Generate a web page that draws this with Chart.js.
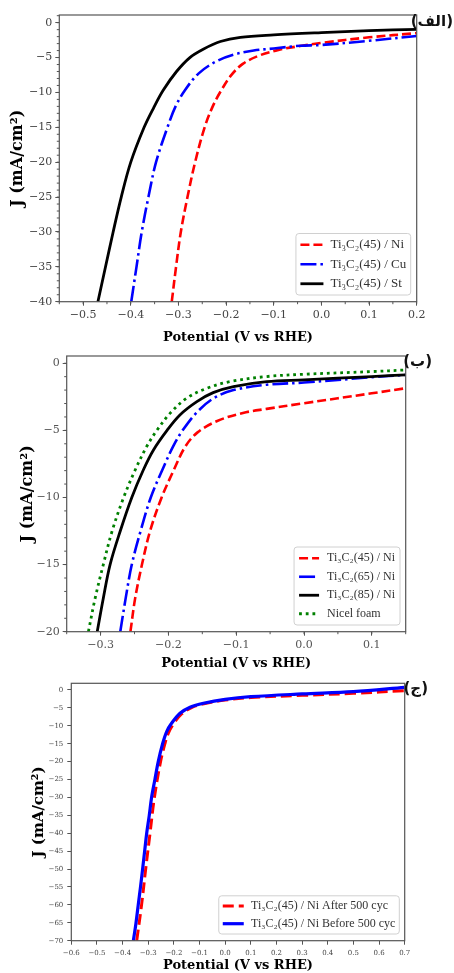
<!DOCTYPE html>
<html lang="fa">
<head>
<meta charset="UTF-8">
<title>Ti3C2 LSV curves</title>
<script src="https://cdn.jsdelivr.net/npm/chart.js"></script>
<style>
  body { margin: 0; background: #fff; width: 454px; height: 973px; position: relative; overflow: hidden; }
  canvas { position: absolute; left: 0; }
  .tag { position: absolute; font: bold 15px "DejaVu Sans", sans-serif; color: #111; white-space: nowrap; }
</style>
</head>
<body>
<canvas id="c1" width="454" height="345" style="top:0"></canvas>
<canvas id="c2" width="454" height="331" style="top:340px"></canvas>
<canvas id="c3" width="454" height="303" style="top:670px"></canvas>
<div class="tag" dir="rtl" style="right:1px; top:12px">(الف)</div>
<div class="tag" dir="rtl" style="right:22px; top:352px">(ب)</div>
<div class="tag" dir="rtl" style="right:26px; top:679px">(ج)</div>

<script>
// ---- panel 1 (الف) ----
const p1Labels = ['Ti₃C₂(45) / Ni', 'Ti₃C₂(45) / Cu', 'Ti₃C₂(45) / St'];
const p1NiV = [-0.314, -0.305, -0.295, -0.281, -0.265, -0.245, -0.228, -0.211, -0.190, -0.165, -0.130, -0.090, -0.045, 0.0, 0.1, 0.2];
const p1NiJ = [-40, -35, -30, -25, -20, -15, -12, -9.8, -7.6, -5.9, -4.7, -3.9, -3.35, -2.9, -2.1, -1.5];
const p1CuV = [-0.399, -0.388, -0.377, -0.363, -0.347, -0.323, -0.306, -0.286, -0.258, -0.222, -0.185, -0.142, -0.100, -0.044, 0.0, 0.1, 0.2];
const p1CuJ = [-40, -35, -30, -25, -20, -15, -12.0, -9.65, -7.3, -5.6, -4.6, -4.0, -3.7, -3.3, -3.2, -2.6, -1.9];
const p1StV = [-0.469, -0.453, -0.437, -0.420, -0.400, -0.372, -0.352, -0.332, -0.304, -0.276, -0.248, -0.212, -0.170, -0.100, 0.0, 0.1, 0.2];
const p1StJ = [-40, -35, -30, -25, -20, -15, -12.2, -9.7, -7.0, -5.0, -3.8, -2.7, -2.1, -1.76, -1.43, -1.15, -0.95];
const p1XTicks = [-0.5, -0.4, -0.3, -0.2, -0.1, 0, 0.1, 0.2];
const p1YTicks = [0, -5, -10, -15, -20, -25, -30, -35, -40];

// ---- panel 2 (ب) ----
const p2Labels = ['Ti₃C₂(45) / Ni', 'Ti₃C₂(65) / Ni', 'Ti₃C₂(85) / Ni', 'Nicel foam'];
const p2N45V = [-0.256, -0.249, -0.239, -0.227, -0.210, -0.192, -0.175, -0.157, -0.128, -0.090, -0.055, 0.0, 0.1, 0.15];
const p2N45J = [-20, -17.5, -15, -12.5, -10, -7.95, -6.2, -5.15, -4.3, -3.7, -3.4, -2.98, -2.24, -1.86];
const p2N65V = [-0.271, -0.263, -0.254, -0.241, -0.226, -0.209, -0.193, -0.179, -0.157, -0.133, -0.104, -0.055, 0.0, 0.1, 0.15];
const p2N65J = [-20, -17.5, -15, -12.5, -10, -7.95, -6.2, -5.0, -3.6, -2.6, -2.0, -1.6, -1.44, -1.04, -0.87];
const p2N85V = [-0.305, -0.296, -0.286, -0.271, -0.254, -0.237, -0.222, -0.202, -0.183, -0.158, -0.134, -0.104, -0.055, 0.0, 0.1, 0.15];
const p2N85J = [-20, -17.5, -15, -12.5, -10, -7.95, -6.46, -5.0, -3.85, -2.86, -2.19, -1.74, -1.37, -1.24, -0.99, -0.87];
const p2FoamV = [-0.318, -0.308, -0.296, -0.283, -0.266, -0.249, -0.232, -0.217, -0.197, -0.173, -0.143, -0.109, -0.055, 0.0, 0.1, 0.15];
const p2FoamJ = [-20, -17.5, -15, -12.5, -10, -7.95, -6.2, -5.0, -3.7, -2.6, -1.86, -1.37, -0.99, -0.82, -0.62, -0.5];
const p2XTicks = [-0.3, -0.2, -0.1, 0, 0.1];
const p2YTicks = [0, -5, -10, -15, -20];

// ---- panel 3 (ج) ----
const p3Labels = ['Ti₃C₂(45) / Ni After 500 cyc', 'Ti₃C₂(45) / Ni Before 500 cyc'];
const p3AfterV = [-0.345, -0.326, -0.310, -0.293, -0.276, -0.252, -0.235, -0.222, -0.202, -0.170, -0.131, -0.079, 0.0, 0.1, 0.3, 0.5, 0.7];
const p3AfterJ = [-70, -60, -50, -40, -30, -20, -15, -12.1, -9.5, -6.7, -4.9, -3.8, -2.8, -2.1, -1.5, -0.93, -0.19];
const p3BeforeV = [-0.358, -0.348, -0.339, -0.330, -0.322, -0.314, -0.306, -0.296, -0.287, -0.274, -0.261, -0.244, -0.228, -0.209, -0.176, -0.137, -0.085, 0.0, 0.1, 0.3, 0.5, 0.7];
const p3BeforeJ = [-70, -65.2, -60, -54.9, -50, -45, -40, -35, -30, -25, -20, -15, -11.6, -9.3, -6.5, -4.8, -3.7, -2.6, -1.86, -1.1, -0.47, 0.74];
const p3XTicks = [-0.6, -0.5, -0.4, -0.3, -0.2, -0.1, 0, 0.1, 0.2, 0.3, 0.4, 0.5, 0.6, 0.7];
const p3YTicks = [0, -5, -10, -15, -20, -25, -30, -35, -40, -45, -50, -55, -60, -65, -70];

const pts = (xs, ys) => xs.map((x, i) => ({x: x, y: ys[i]}));
const fmt = d => v => (v < 0 ? '−' : '') + Math.abs(v).toFixed(d);

// box around the plot and small minor ticks
const frame = {
  id: 'frame',
  afterDatasetsDraw(chart, args, o) {
    const {ctx, chartArea: a} = chart;
    ctx.save();
    ctx.strokeStyle = '#555';
    ctx.lineWidth = 1.2;
    ctx.strokeRect(a.left, a.top, a.right - a.left, a.bottom - a.top);
    ctx.lineWidth = 1;
    ['x', 'y'].forEach(k => {
      const step = o[k];
      if (!step) return;
      const s = chart.scales[k];
      for (let i = Math.ceil(s.min / step - 1e-6); i * step <= s.max + 1e-9; i++) {
        const p = s.getPixelForValue(i * step);
        ctx.beginPath();
        if (k === 'x') { ctx.moveTo(p, a.bottom); ctx.lineTo(p, a.bottom + 2.5); }
        else { ctx.moveTo(a.left, p); ctx.lineTo(a.left - 2.5, p); }
        ctx.stroke();
      }
    });
    ctx.restore();
  }
};

// legend box in the lower right corner of the plot
const boxLegend = {
  id: 'boxLegend',
  afterDraw(chart, args, o) {
    const {ctx, chartArea: a} = chart;
    const sets = chart.data.datasets;
    ctx.save();
    ctx.font = o.font;
    const tw = Math.max(...sets.map(d => ctx.measureText(d.label).width));
    const w = o.pad + o.line + o.gap + tw + o.pad;
    const h = sets.length * o.row + o.extra;
    const x = a.right - o.right - w, y = a.bottom - o.bottom - h;
    ctx.fillStyle = 'rgba(255,255,255,0.9)';
    ctx.strokeStyle = '#d0d0d0';
    ctx.lineWidth = 1;
    ctx.beginPath();
    ctx.roundRect(x, y, w, h, 3);
    ctx.fill();
    ctx.stroke();
    sets.forEach((d, i) => {
      const cy = y + o.extra / 2 + o.row * (i + 0.5);
      ctx.strokeStyle = d.borderColor;
      ctx.lineWidth = d.borderWidth;
      ctx.setLineDash(d.borderDash || []);
      ctx.beginPath();
      ctx.moveTo(x + o.pad, cy);
      ctx.lineTo(x + o.pad + o.line, cy);
      ctx.stroke();
      ctx.setLineDash([]);
      ctx.fillStyle = '#333';
      ctx.textBaseline = 'middle';
      ctx.fillText(d.label, x + o.pad + o.line + o.gap, cy);
    });
    ctx.restore();
  }
};

Chart.defaults.font.family = '"DejaVu Serif", serif';
Chart.defaults.animation = false;

function line(label, data, color, width, dash) {
  return {
    label: label, data: data, borderColor: color, backgroundColor: color,
    borderWidth: width, borderDash: dash, pointRadius: 0, showLine: true,
    tension: 0.35, fill: false
  };
}

function makeChart(id, cfg) {
  const sets = cfg.datasets.map((d, i) => Object.assign(d, {order: cfg.datasets.length - i}));
  return new Chart(document.getElementById(id), {
    type: 'scatter',
    data: {datasets: sets},
    plugins: [frame, boxLegend],
    options: {
      responsive: false,
      devicePixelRatio: 1,
      layout: {padding: {top: cfg.top, right: cfg.right, left: 0, bottom: 0}},
      plugins: {
        legend: {display: false},
        tooltip: {enabled: false},
        frame: {x: cfg.minorX, y: cfg.minorY},
        boxLegend: cfg.legend
      },
      scales: {
        x: {
          type: 'linear', min: cfg.xMin, max: cfg.xMax,
          afterBuildTicks: s => { s.ticks = cfg.xTicks.map(v => ({value: v})); },
          afterFit: s => { s.height = cfg.xH; },
          border: {display: false},
          grid: {drawOnChartArea: false, tickLength: 4, tickColor: '#555'},
          ticks: {callback: fmt(1), maxRotation: 0, autoSkip: false, padding: cfg.tickPad,
                  color: cfg.tickColor, font: {size: cfg.tickSize}},
          title: {display: true, text: 'Potential (V vs RHE)', color: '#000',
                  padding: {top: 0, bottom: 0}, font: {size: 13, weight: 'bold'}}
        },
        y: {
          type: 'linear', min: cfg.yMin, max: cfg.yMax,
          afterBuildTicks: s => { s.ticks = cfg.yTicks.map(v => ({value: v})); },
          afterFit: s => { s.width = cfg.yW; },
          border: {display: false},
          grid: {drawOnChartArea: false, tickLength: 4, tickColor: '#555'},
          ticks: {callback: fmt(0), autoSkip: false, padding: cfg.tickPad,
                  color: cfg.tickColor, font: {size: cfg.tickSize}},
          title: {display: true, text: 'J (mA/cm²)', color: '#000',
                  padding: {top: cfg.yTitlePad, bottom: 0}, font: {size: cfg.yTitleSize, weight: 'bold'}}
        }
      }
    }
  });
}

makeChart('c1', {
  datasets: [
    line(p1Labels[0], pts(p1NiV, p1NiJ), '#ff0000', 2.6, [9, 4]),
    line(p1Labels[1], pts(p1CuV, p1CuJ), '#0000ff', 2.6, [16, 4, 2.5, 4]),
    line(p1Labels[2], pts(p1StV, p1StJ), '#000000', 2.8, [])
  ],
  xMin: -0.55, xMax: 0.2, yMin: -40, yMax: 1.1, xTicks: p1XTicks, yTicks: p1YTicks,
  top: 15, right: 37.3, yW: 59.3, xH: 43.3, minorX: 0.05, minorY: 1,
  tickPad: 3, tickColor: '#444', tickSize: 11, yTitlePad: 8.4, yTitleSize: 16,
  legend: {font: '13px "Liberation Serif", serif', pad: 4.5, line: 23, gap: 7, row: 19.5, extra: 3, right: 6, bottom: 6.7}
});

makeChart('c2', {
  datasets: [
    line(p2Labels[0], pts(p2N45V, p2N45J), '#ff0000', 2.6, [9, 4]),
    line(p2Labels[1], pts(p2N65V, p2N65J), '#0000ff', 2.6, [16, 4, 2.5, 4]),
    line(p2Labels[2], pts(p2N85V, p2N85J), '#000000', 2.8, []),
    line(p2Labels[3], pts(p2FoamV, p2FoamJ), '#008000', 2.8, [2.8, 3.9])
  ],
  xMin: -0.35, xMax: 0.15, yMin: -20, yMax: 0.54, xTicks: p2XTicks, yTicks: p2YTicks,
  top: 16, right: 48.3, yW: 66.7, xH: 39.3, minorX: 0.05, minorY: 1,
  tickPad: 3, tickColor: '#555', tickSize: 11, yTitlePad: 18.4, yTitleSize: 16,
  legend: {font: '12px "Liberation Serif", serif', pad: 5, line: 20, gap: 8, row: 18.5, extra: 4, right: 5.7, bottom: 6.7}
});

makeChart('c3', {
  datasets: [
    line(p3Labels[0], pts(p3AfterV, p3AfterJ), '#ff0000', 3, [11, 5]),
    line(p3Labels[1], pts(p3BeforeV, p3BeforeJ), '#0000ff', 3.2, [])
  ],
  xMin: -0.6, xMax: 0.7, yMin: -70, yMax: 1.87, xTicks: p3XTicks, yTicks: p3YTicks,
  top: 13.3, right: 49.3, yW: 71.3, xH: 32.3, minorX: 0, minorY: 0,
  tickPad: 4, tickColor: '#444', tickSize: 7, yTitlePad: 30.4, yTitleSize: 15,
  legend: {font: '12px "Liberation Serif", serif', pad: 4, line: 21, gap: 7.3, row: 17.6, extra: 3, right: 5.4, bottom: 6.7}
});
</script>
</body>
</html>
